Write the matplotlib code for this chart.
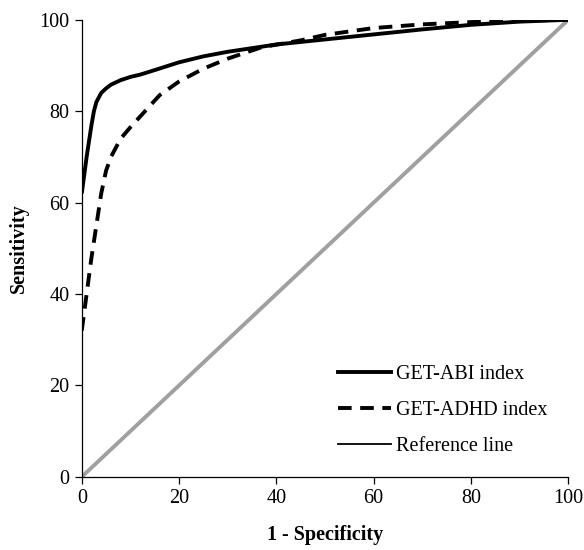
import matplotlib.pyplot as plt
from matplotlib.lines import Line2D

plt.rcParams['font.family'] = ['Liberation Serif', 'DejaVu Serif']

# ROC curves (1 - specificity, sensitivity)
abi_x = [0, 1, 2, 2.5, 3, 4, 5, 6, 8, 10, 12, 15, 20, 25, 30, 40, 50, 60, 70, 80, 90, 100]
abi_y = [62, 70, 77, 80, 82, 84, 85, 85.8, 86.8, 87.5, 88, 89, 90.7, 92, 93, 94.6, 95.7, 96.8, 97.9, 98.9, 99.6, 100]

adhd_x = [0, 1, 2, 3, 4, 5, 6, 8, 10, 13, 16, 20, 25, 30, 37, 45, 50, 60, 70, 80, 90, 100]
adhd_y = [32, 40, 48, 55, 62, 67, 70, 74, 76.5, 80, 83.5, 86.5, 89.3, 91.5, 94, 95.5, 96.7, 98.2, 99, 99.5, 99.8, 100]

ref_x = [0, 100]
ref_y = [0, 100]

ticks = [0, 20, 40, 60, 80, 100]

fig = plt.figure(figsize=(5.84, 5.5), dpi=100)
ax = fig.add_axes([0.140, 0.133, 0.833, 0.831])

ax.plot(ref_x, ref_y, color='#a0a0a0', lw=2.8)
ax.plot(abi_x, abi_y, color='black', lw=2.8, solid_capstyle='butt')
ax.plot(adhd_x, adhd_y, color='black', lw=2.8, ls=(0, (3.5, 2.2)))

ax.set_xlim(0, 100)
ax.set_ylim(0, 100)
ax.set_xticks(ticks)
ax.set_yticks(ticks)
ax.tick_params(labelsize=14.5, length=5, width=0.9, direction='out', pad=4)
for s in ['top', 'right']:
    ax.spines[s].set_visible(False)
for s in ['left', 'bottom']:
    ax.spines[s].set_linewidth(0.9)

ax.set_xlabel('1 - Specificity', fontsize=14.5, fontweight='bold', labelpad=12)
ax.set_ylabel('Sensitivity', fontsize=14.5, fontweight='bold', labelpad=7)

handles = [Line2D([], [], color='black', lw=2.8),
           Line2D([], [], color='black', lw=2.8, ls=(0, (3.5, 2.2))),
           Line2D([], [], color='black', lw=1.3)]
ax.legend(handles, ['GET-ABI index', 'GET-ADHD index', 'Reference line'],
          loc='lower left', bbox_to_anchor=(0.49, 0.005), frameon=False,
          fontsize=14.5, handlelength=2.6, handletextpad=0.25, labelspacing=0.85)

fig.savefig('out.png', dpi=100)
